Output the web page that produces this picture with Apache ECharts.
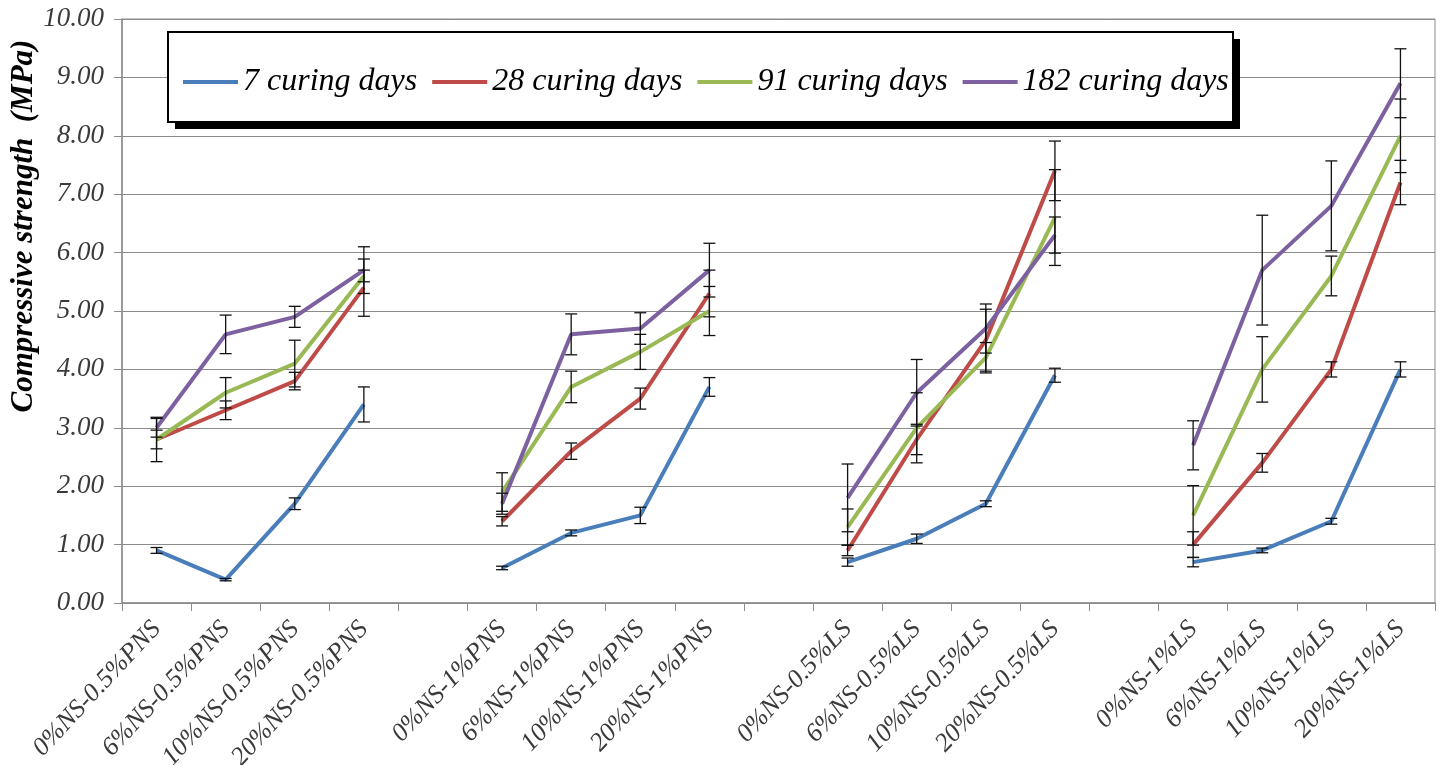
<!DOCTYPE html>
<html>
<head>
<meta charset="utf-8">
<script src="https://cdn.jsdelivr.net/npm/echarts@6.0.0/dist/echarts.min.js"></script>
<style>
html,body{margin:0;padding:0;background:#fff;}
#chart{width:1447px;height:765px;}
</style>
</head>
<body>
<div id="chart"></div>
<script>
const categories = ['0%NS-0.5%PNS','6%NS-0.5%PNS','10%NS-0.5%PNS','20%NS-0.5%PNS','',
  '0%NS-1%PNS','6%NS-1%PNS','10%NS-1%PNS','20%NS-1%PNS','',
  '0%NS-0.5%LS','6%NS-0.5%LS','10%NS-0.5%LS','20%NS-0.5%LS','',
  '0%NS-1%LS','6%NS-1%LS','10%NS-1%LS','20%NS-1%LS'];
const seriesNames = ['7 curing days','28 curing days','91 curing days','182 curing days'];
const days7   = [0.9,0.4,1.7,3.4,null,0.6,1.2,1.5,3.7,null,0.7,1.1,1.7,3.9,null,0.7,0.9,1.4,4.0];
const days28  = [2.8,3.3,3.8,5.4,null,1.4,2.6,3.5,5.3,null,0.9,2.8,4.5,7.4,null,1.0,2.4,4.0,7.2];
const days91  = [2.8,3.6,4.1,5.6,null,1.9,3.7,4.3,5.0,null,1.3,3.0,4.2,6.6,null,1.5,4.0,5.6,8.0];
const days182 = [3.0,4.6,4.9,5.7,null,1.7,4.6,4.7,5.7,null,1.8,3.6,4.7,6.3,null,2.7,5.7,6.8,8.9];
const err7   = [0.05,0.02,0.1,0.3,null,0.03,0.05,0.14,0.16,null,0.07,0.08,0.05,0.12,null,0.08,0.04,0.05,0.13];
const err28  = [0.38,0.16,0.15,0.49,null,0.08,0.14,0.18,0.4,null,0.09,0.26,0.53,0.51,null,0.22,0.16,0.13,0.38];
const err91  = [0.16,0.26,0.4,0.1,null,0.33,0.27,0.3,0.42,null,0.31,0.6,0.26,0.82,null,0.51,0.56,0.34,0.63];
const err182 = [0.16,0.33,0.18,0.4,null,0.18,0.35,0.27,0.46,null,0.58,0.57,0.42,0.31,null,0.42,0.94,0.77,0.59];
const yTicks = {min:0, max:10, interval:1};

const values = [days7, days28, days91, days182];
const errors = [err7, err28, err91, err182];
const colors = ['#4a7ebb','#be4b48','#98b954','#7d60a0'];

const errData = [];
values.forEach((arr, s) => {
  arr.forEach((v, i) => {
    if (v !== null && errors[s][i] !== null) errData.push([i, v, errors[s][i]]);
  });
});

const serif = 'Liberation Serif';
const chart = echarts.init(document.getElementById('chart'));
const series = values.map((arr, s) => ({
  name: seriesNames[s],
  type: 'line',
  data: arr,
  showSymbol: false,
  symbol: 'none',
  connectNulls: false,
  lineStyle: {width: 4, color: colors[s]},
  itemStyle: {color: colors[s]},
  z: 2
}));
series.push({
  name: 'error',
  type: 'custom',
  data: errData,
  z: 3,
  renderItem: function (params, api) {
    const i = api.value(0), v = api.value(1), e = api.value(2);
    const top = api.coord([i, v + e]);
    const bot = api.coord([i, v - e]);
    const w = 6;
    const st = {stroke: '#111', lineWidth: 1.3};
    return {
      type: 'group',
      children: [
        {type: 'line', shape: {x1: top[0], y1: top[1], x2: bot[0], y2: bot[1]}, style: st},
        {type: 'line', shape: {x1: top[0]-w, y1: top[1], x2: top[0]+w, y2: top[1]}, style: st},
        {type: 'line', shape: {x1: bot[0]-w, y1: bot[1], x2: bot[0]+w, y2: bot[1]}, style: st}
      ]
    };
  }
});

chart.setOption({
  animation: false,
  backgroundColor: '#fff',
  grid: {left: 122, right: 12, top: 19, bottom: 162, show: true, borderColor: '#8c8c8c', borderWidth: 1,
    containLabel: false, outerBoundsMode: 'none'},
  xAxis: {
    type: 'category',
    data: categories,
    boundaryGap: true,
    axisLine: {lineStyle: {color: '#8c8c8c', width: 1.5}},
    axisTick: {show: true, interval: 0, length: 8, lineStyle: {color: '#8c8c8c'}},
    axisLabel: {interval: 0, rotate: 47, margin: 22, fontFamily: serif, fontStyle: 'italic', fontSize: 26, color: '#3a3a3a'},
    splitLine: {show: false}
  },
  yAxis: {
    type: 'value',
    min: yTicks.min, max: yTicks.max, interval: yTicks.interval,
    axisLine: {show: true, lineStyle: {color: '#8c8c8c', width: 1.5}},
    axisTick: {show: true, length: 8, lineStyle: {color: '#8c8c8c'}},
    axisLabel: {margin: 18, fontFamily: serif, fontStyle: 'italic', fontSize: 27, color: '#3a3a3a',
      formatter: v => v.toFixed(2)},
    splitLine: {show: true, lineStyle: {color: '#8c8c8c', width: 1.2}}
  },
  legend: {
    data: seriesNames,
    left: 178, top: 61,
    icon: 'rect', itemWidth: 55, itemHeight: 4, itemGap: 15,
    textStyle: {fontFamily: serif, fontStyle: 'italic', fontSize: 32, color: '#000'},
    z: 10
  },
  graphic: [
    {type: 'rect', shape: {x: 175, y: 39, width: 1065, height: 90}, style: {fill: '#000'}, z: 5},
    {type: 'rect', shape: {x: 168, y: 32, width: 1065, height: 90}, style: {fill: '#fff', stroke: '#000', lineWidth: 2}, z: 6},
    {type: 'text', x: 24, y: 226, rotation: Math.PI / 2,
      style: {text: 'Compressive strength  (MPa)', fontFamily: serif, fontStyle: 'italic', fontWeight: 'bold', fontSize: 31,
        fill: '#000', textAlign: 'center', textVerticalAlign: 'middle'}, z: 6}
  ],
  series: series
});
</script>
</body>
</html>
